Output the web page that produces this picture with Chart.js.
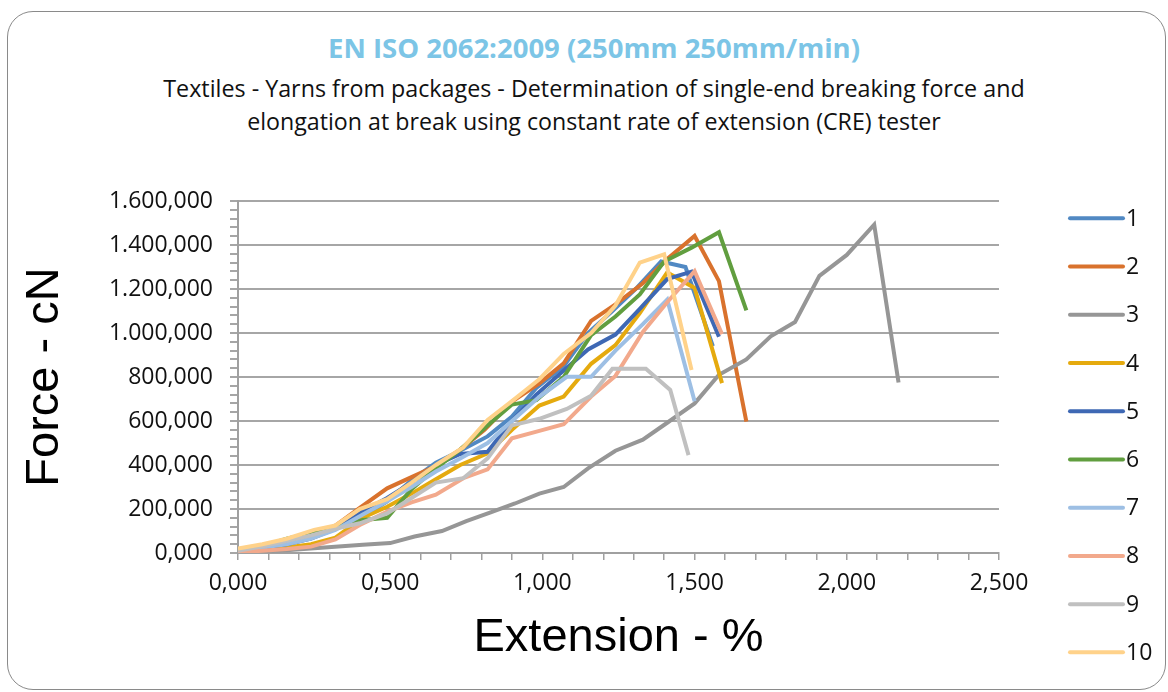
<!DOCTYPE html>
<html><head><meta charset="utf-8">
<script src="https://cdn.jsdelivr.net/npm/chart.js@4.4.1/dist/chart.umd.min.js"></script>
<style>
html,body{margin:0;padding:0;background:#fff;}
#wrap{position:relative;width:1168px;height:692px;overflow:hidden;background:#fff;}
#frame{position:absolute;left:7px;top:11px;width:1159px;height:679px;border:1.5px solid #8a8a8a;border-radius:26px;box-sizing:border-box;}
.t{position:absolute;left:10px;width:1168px;text-align:center;white-space:nowrap;font-family:'Open Sans';}
#title{color:#7CC5E6;font-weight:bold;}
#sub1,#sub2{color:#111;}
canvas{position:absolute;left:0;top:0;}
</style></head>
<body><div id="wrap"><div id="frame"></div>
<div class="t" id="title">EN ISO 2062:2009 (250mm 250mm/min)</div>
<div class="t" id="sub1">Textiles - Yarns from packages - Determination of single-end breaking force and</div>
<div class="t" id="sub2">elongation at break using constant rate of extension (CRE) tester</div>
<canvas id="c" width="1168" height="692"></canvas></div>
<script>
// ---- data ----
const seriesLabels = ['1','2','3','4','5','6','7','8','9','10'];
const seriesColors = ['#5189C3','#D9722D','#969696','#E5AA0E','#3E68B4','#619E3F','#9DBFE4','#F2A98C','#C0C0C0','#FFD28A'];
const xTickValues = [0, 0.5, 1.0, 1.5, 2.0, 2.5];
const yTickValues = [0, 200, 400, 600, 800, 1000, 1200, 1400, 1600];

const ext1 = [0, 0.08, 0.16, 0.24, 0.32, 0.41, 0.49, 0.57, 0.65, 0.73, 0.82, 0.90, 0.98, 1.07, 1.15, 1.23, 1.31, 1.39, 1.47, 1.56];
const force1 = [12, 28, 50, 75, 110, 165, 235, 330, 410, 465, 530, 620, 750, 850, 1000, 1100, 1205, 1325, 1300, 940];
const ext2 = [0, 0.08, 0.16, 0.24, 0.32, 0.40, 0.49, 0.57, 0.65, 0.73, 0.81, 0.90, 0.99, 1.07, 1.16, 1.24, 1.33, 1.41, 1.50, 1.58, 1.67];
const force2 = [12, 22, 42, 72, 125, 205, 294, 345, 395, 470, 560, 688, 771, 862, 1055, 1130, 1226, 1336, 1441, 1236, 597];
const ext3 = [0, 0.08, 0.17, 0.25, 0.33, 0.41, 0.50, 0.58, 0.67, 0.75, 0.83, 0.91, 0.99, 1.07, 1.15, 1.24, 1.33, 1.41, 1.50, 1.58, 1.67, 1.75, 1.83, 1.91, 2.00, 2.09, 2.17];
const force3 = [5, 8, 14, 22, 30, 38, 45, 75, 100, 145, 185, 225, 270, 300, 385, 465, 515, 592, 680, 810, 880, 985, 1050, 1260, 1355, 1492, 775];
const ext4 = [0, 0.08, 0.16, 0.24, 0.32, 0.41, 0.49, 0.57, 0.65, 0.73, 0.82, 0.90, 0.99, 1.07, 1.16, 1.24, 1.32, 1.41, 1.50, 1.59];
const force4 = [8, 15, 25, 40, 70, 160, 210, 270, 335, 400, 453, 560, 670, 711, 860, 945, 1090, 1275, 1205, 772];
const ext5 = [0, 0.08, 0.16, 0.24, 0.33, 0.41, 0.49, 0.57, 0.65, 0.73, 0.82, 0.90, 0.98, 1.07, 1.15, 1.24, 1.32, 1.41, 1.49, 1.58];
const force5 = [12, 25, 40, 65, 115, 190, 250, 320, 400, 450, 460, 600, 720, 830, 925, 993, 1110, 1245, 1279, 983];
const ext6 = [0, 0.08, 0.16, 0.24, 0.32, 0.41, 0.49, 0.57, 0.65, 0.73, 0.82, 0.90, 0.98, 1.07, 1.16, 1.24, 1.32, 1.40, 1.49, 1.58, 1.67];
const force6 = [5, 30, 65, 90, 115, 150, 160, 290, 385, 470, 580, 675, 695, 800, 990, 1075, 1175, 1325, 1388, 1458, 1103];
const ext7 = [0, 0.08, 0.16, 0.24, 0.32, 0.41, 0.49, 0.57, 0.65, 0.73, 0.82, 0.90, 0.99, 1.08, 1.16, 1.24, 1.33, 1.41, 1.50];
const force7 = [10, 25, 40, 65, 105, 175, 235, 300, 370, 430, 500, 600, 710, 801, 801, 920, 1040, 1152, 690];
const ext8 = [0, 0.08, 0.16, 0.24, 0.32, 0.40, 0.49, 0.57, 0.65, 0.74, 0.82, 0.90, 0.99, 1.07, 1.16, 1.24, 1.33, 1.41, 1.50, 1.59];
const force8 = [5, 10, 18, 29, 62, 127, 188, 230, 265, 340, 380, 521, 555, 585, 711, 805, 1005, 1140, 1281, 995];
const ext9 = [0, 0.08, 0.16, 0.24, 0.32, 0.40, 0.49, 0.57, 0.65, 0.74, 0.82, 0.90, 0.99, 1.08, 1.16, 1.23, 1.34, 1.42, 1.48];
const force9 = [10, 30, 55, 80, 110, 135, 180, 250, 320, 340, 430, 580, 610, 655, 715, 837, 837, 741, 445];
const ext10 = [0, 0.08, 0.16, 0.25, 0.32, 0.40, 0.49, 0.57, 0.65, 0.74, 0.82, 0.90, 0.99, 1.07, 1.16, 1.24, 1.32, 1.40, 1.49];
const force10 = [20, 40, 65, 105, 125, 200, 245, 320, 400, 480, 605, 690, 790, 905, 1000, 1125, 1320, 1358, 832];

const extSeries = [ext1, ext2, ext3, ext4, ext5, ext6, ext7, ext8, ext9, ext10];
const forceSeries = [force1, force2, force3, force4, force5, force6, force7, force8, force9, force10];

// ---- helpers ----
const mctx = document.createElement('canvas').getContext('2d');
function fitSize(text, font, target) {
  mctx.font = font.replace('SIZE', '100px');
  return 100 * target / mctx.measureText(text).width;
}
function placeText(id, font, target, cy) {
  const el = document.getElementById(id);
  const s = fitSize(el.textContent, font, target);
  el.style.fontSize = s + 'px';
  el.style.lineHeight = (s * 1.3) + 'px';
  el.style.top = (cy - s * 0.65) + 'px';
}
placeText('title', "bold SIZE 'Open Sans'", 532, 48);
placeText('sub1', "SIZE 'Open Sans'", 862, 88);
placeText('sub2', "SIZE 'Open Sans'", 694, 121);

function isMajor(v, step) { return Math.abs(v / step - Math.round(v / step)) < 1e-6; }
function fmtX(v) { return v.toFixed(3).replace('.', ','); }
function fmtY(v) {
  const i = Math.round(v).toString().replace(/\B(?=(\d{3})+(?!\d))/g, '.');
  return i + ',000';
}

const tickFont = {family: "'Open Sans'", size: 23};
const legendFont = {family: "'Open Sans'", size: 23};
const axisTitleFont = {family: "'Liberation Sans'", size: 47};

const datasets = seriesLabels.map((lab, i) => ({
  label: lab,
  data: extSeries[i].map((x, j) => ({x: x, y: forceSeries[i][j]})),
  borderColor: seriesColors[i],
  backgroundColor: seriesColors[i],
  borderWidth: 4,
  showLine: true,
  pointRadius: 0,
  tension: 0,
  order: seriesLabels.length - i
}));

const legendPlugin = {
  id: 'sideLegend',
  afterDraw(chart) {
    const ctx = chart.ctx;
    ctx.save();
    chart.data.datasets.forEach((ds, i) => {
      const y = 218.3 + i * 48.23;
      ctx.strokeStyle = ds.borderColor;
      ctx.lineWidth = 4;
      ctx.lineCap = 'round';
      ctx.beginPath(); ctx.moveTo(1070, y); ctx.lineTo(1123, y); ctx.stroke();
      ctx.fillStyle = '#111';
      ctx.font = legendFont.size + 'px ' + legendFont.family;
      ctx.textBaseline = 'middle';
      ctx.textAlign = 'left';
      ctx.fillText(ds.label, 1126, y + 1);
    });
    ctx.restore();
  }
};

new Chart(document.getElementById('c'), {
  type: 'scatter',
  data: {datasets},
  plugins: [legendPlugin],
  options: {
    responsive: false,
    animation: false,
    devicePixelRatio: 1,
    layout: {autoPadding: false, padding: {left: 0, right: 169, top: 201, bottom: 0}},
    plugins: {legend: {display: false}, tooltip: {enabled: false}, title: {display: false}},
    scales: {
      x: {
        type: 'linear', min: 0, max: 2.5,
        afterFit(s) { s.height = 139; },
        ticks: {
          stepSize: 0.1, autoSkip: false, maxRotation: 0, padding: 10,
          color: '#111', font: tickFont,
          callback: (v) => (xTickValues.some(t => Math.abs(t - v) < 1e-6) ? fmtX(v) : '')
        },
        grid: {drawOnChartArea: false, drawTicks: true, tickLength: 7, color: '#a0a0a0', tickColor: '#a0a0a0', lineWidth: 1.5},
        border: {display: true, color: '#a0a0a0', width: 2},
        title: {display: true, text: 'Extension - %', color: '#000', font: axisTitleFont, padding: {top: 0, bottom: 26}}
      },
      y: {
        type: 'linear', min: 0, max: 1600,
        afterFit(s) { s.width = 238; },
        ticks: {
          stepSize: 40, autoSkip: false, padding: 17,
          color: '#111', font: tickFont,
          callback: (v) => (yTickValues.some(t => Math.abs(t - v) < 1e-6) ? fmtY(v) : '')
        },
        grid: {
          drawTicks: true, tickLength: 8, lineWidth: 2,
          color: (c) => (c.tick && isMajor(c.tick.value, 200) ? '#a6a6a6' : 'rgba(0,0,0,0)'),
          tickColor: '#a6a6a6'
        },
        border: {display: true, color: '#a0a0a0', width: 2},
        title: {display: true, text: 'Force - cN', color: '#000', font: axisTitleFont, padding: {top: 17, bottom: 0}}
      }
    }
  }
});
</script>
</body></html>
